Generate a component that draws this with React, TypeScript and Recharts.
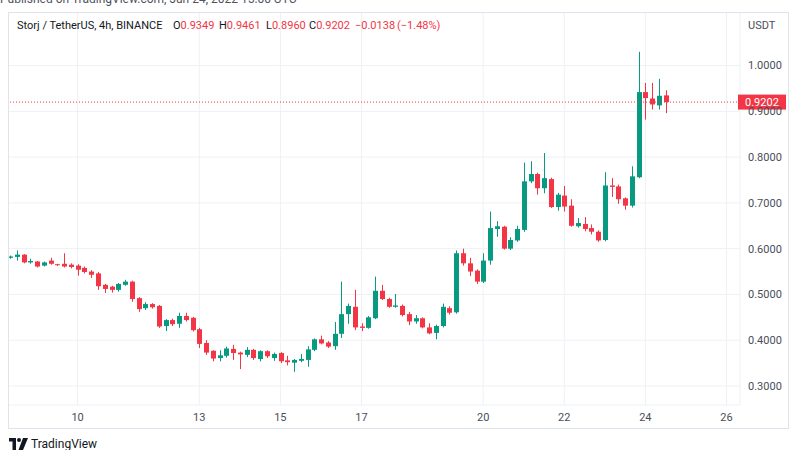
import { Bar, CartesianGrid, ComposedChart, ReferenceLine, XAxis, YAxis } from "recharts"

const GREEN = "#089981"
const RED = "#f23645"
const GRID = "#eef0f4"
const TEXT = "#4a4e59"
const FONT = "Roboto, 'Liberation Sans', sans-serif"

// 4h candles, STORJ/USDT, Jun 8 08:00 -> Jun 24 12:00 (index = bar number)
const opens = [
  0.58, 0.582, 0.587, 0.57, 0.572, 0.563, 0.574, 0.566, 0.567, 0.565,
  0.563, 0.558, 0.55, 0.546, 0.521, 0.517, 0.51, 0.521, 0.528, 0.492,
  0.47, 0.479, 0.475, 0.431, 0.444, 0.436, 0.453, 0.449, 0.424, 0.394,
  0.377, 0.361, 0.366, 0.381, 0.373, 0.368, 0.379, 0.359, 0.376, 0.361,
  0.372, 0.356, 0.351, 0.355, 0.357, 0.379, 0.402, 0.395, 0.387, 0.414,
  0.457, 0.473, 0.43, 0.427, 0.448, 0.508, 0.49, 0.473, 0.475, 0.457,
  0.441, 0.448, 0.428, 0.416, 0.431, 0.47, 0.461, 0.59, 0.568, 0.552,
  0.528, 0.574, 0.643, 0.648, 0.6, 0.618, 0.641, 0.747, 0.763, 0.732,
  0.752, 0.691, 0.716, 0.694, 0.649, 0.654, 0.645, 0.637, 0.619, 0.738,
  0.736, 0.71, 0.694, 0.756, 0.942, 0.928, 0.913, 0.9349,
]
const highs = [
  0.585, 0.596, 0.588, 0.578, 0.573, 0.572, 0.58, 0.567, 0.59, 0.568,
  0.566, 0.561, 0.553, 0.549, 0.523, 0.519, 0.525, 0.532, 0.53, 0.494,
  0.483, 0.481, 0.477, 0.446, 0.447, 0.46, 0.46, 0.451, 0.427, 0.4,
  0.378, 0.378, 0.386, 0.39, 0.375, 0.385, 0.381, 0.378, 0.378, 0.373,
  0.374, 0.366, 0.359, 0.37, 0.387, 0.404, 0.41, 0.398, 0.44, 0.528,
  0.48, 0.51, 0.437, 0.453, 0.539, 0.521, 0.493, 0.501, 0.478, 0.462,
  0.455, 0.45, 0.437, 0.434, 0.48, 0.474, 0.596, 0.6, 0.58, 0.555,
  0.59, 0.681, 0.66, 0.65, 0.625, 0.65, 0.788, 0.791, 0.766, 0.809,
  0.755, 0.722, 0.737, 0.708, 0.667, 0.669, 0.653, 0.64, 0.767, 0.754,
  0.74, 0.712, 0.78, 1.03, 0.962, 0.962, 0.971, 0.9461,
]
const lows = [
  0.578, 0.574, 0.568, 0.567, 0.559, 0.561, 0.565, 0.562, 0.559, 0.557,
  0.541, 0.546, 0.536, 0.51, 0.503, 0.504, 0.506, 0.519, 0.484, 0.462,
  0.466, 0.469, 0.427, 0.42, 0.431, 0.427, 0.441, 0.419, 0.383, 0.368,
  0.354, 0.354, 0.362, 0.357, 0.337, 0.363, 0.357, 0.354, 0.361, 0.355,
  0.35, 0.345, 0.331, 0.352, 0.342, 0.376, 0.391, 0.383, 0.379, 0.405,
  0.436, 0.422, 0.42, 0.425, 0.446, 0.488, 0.471, 0.471, 0.452, 0.433,
  0.436, 0.426, 0.413, 0.402, 0.428, 0.456, 0.458, 0.563, 0.54, 0.523,
  0.525, 0.565, 0.626, 0.598, 0.597, 0.615, 0.637, 0.743, 0.718, 0.721,
  0.689, 0.683, 0.681, 0.648, 0.646, 0.638, 0.631, 0.615, 0.616, 0.713,
  0.698, 0.685, 0.69, 0.754, 0.882, 0.904, 0.904, 0.896,
]
const closes = [
  0.583, 0.587, 0.57, 0.573, 0.561, 0.57, 0.567, 0.564, 0.561, 0.56,
  0.554, 0.549, 0.543, 0.518, 0.512, 0.51, 0.523, 0.528, 0.49, 0.468,
  0.479, 0.472, 0.43, 0.444, 0.435, 0.453, 0.444, 0.422, 0.392, 0.373,
  0.36, 0.367, 0.382, 0.372, 0.369, 0.379, 0.361, 0.376, 0.365, 0.37,
  0.354, 0.352, 0.357, 0.359, 0.38, 0.402, 0.393, 0.386, 0.414, 0.457,
  0.475, 0.428, 0.427, 0.45, 0.508, 0.49, 0.473, 0.476, 0.455, 0.441,
  0.448, 0.428, 0.415, 0.431, 0.473, 0.46, 0.59, 0.568, 0.55, 0.528,
  0.574, 0.645, 0.649, 0.6, 0.619, 0.643, 0.747, 0.763, 0.732, 0.754,
  0.691, 0.718, 0.692, 0.65, 0.656, 0.643, 0.637, 0.618, 0.738, 0.735,
  0.708, 0.694, 0.758, 0.942, 0.929, 0.915, 0.934, 0.9202,
]

// bar index of midnight for each labelled day
const dayTicks = [10, 28, 40, 52, 70, 82, 94, 106]
const dayLabels = ["10", "13", "15", "17", "20", "22", "24", "26"]
const priceTicks = [0.3, 0.4, 0.5, 0.6, 0.7, 0.8, 0.9, 1.0]
const lastPrice = 0.9202

const data = opens.map((o, i) => ({
  i,
  o,
  h: highs[i],
  l: lows[i],
  c: closes[i],
  range: [lows[i], highs[i]],
}))

function Candle(p: any) {
  const { x, y, width, height, payload } = p
  if (x == null || y == null) return null
  const top = Math.min(y, y + height)
  const hh = Math.abs(height)
  const { o, h, l, c } = payload
  const k = hh / (h - l || 1)
  const bTop = top + (h - Math.max(o, c)) * k
  const bBot = top + (h - Math.min(o, c)) * k
  const color = c >= o ? GREEN : RED
  const cx = Math.round(x + width / 2) + 0.5
  return (
    <g>
      <line x1={cx} x2={cx} y1={top} y2={top + hh} stroke={color} strokeWidth={1} />
      <rect x={cx - 2.5} y={bTop} width={5} height={Math.max(1, bBot - bTop)} fill={color} />
    </g>
  )
}

function PriceBadge(props: any) {
  const vb = props.viewBox || {}
  const x = vb.x + vb.width - 2
  const y = vb.y
  return (
    <g>
      <rect x={x} y={y - 7.5} width={48} height={15} fill={RED} />
      <text x={x + 7} y={y + 4} fill="#fff" fontSize={11} fontFamily={FONT}>
        {lastPrice.toFixed(4)}
      </text>
    </g>
  )
}

function TvLogo() {
  return (
    <svg width={20} height={12} viewBox="0 0 20 12" style={{ position: "absolute", left: 9, top: 438 }}>
      <path d="M0 0 H7 V12 H3.5 V3.5 H0 Z" fill="#131722" />
      <circle cx={10} cy={2} r={2} fill="#131722" />
      <path d="M14 0 H19 L14 12 H9.5 Z" fill="#131722" />
    </svg>
  )
}

export default function App() {
  const hdr = { position: "absolute" as const, top: 19, fontSize: 11, fontFamily: FONT, color: "#131722", whiteSpace: "nowrap" as const }
  const red = { color: RED }
  return (
    <div style={{ position: "absolute", left: 0, top: 0, width: 798, height: 450, background: "#fff", overflow: "hidden", fontFamily: FONT }}>
      <div style={{ position: "absolute", left: 0, top: -8, fontSize: 12, color: "#50535e", whiteSpace: "nowrap" }}>
        Published on TradingView.com, Jun 24, 2022 15:00 UTC
      </div>
      <div style={{ position: "absolute", left: 8, top: 12 }}>
        <ComposedChart width={781} height={417} data={data} margin={{ top: 0, right: 0, bottom: 0, left: 0 }}>
          <CartesianGrid stroke={GRID} />
          <XAxis
            dataKey="i"
            type="number"
            domain={[-0.3, 108]}
            allowDataOverflow
            ticks={dayTicks}
            tickFormatter={(v: number) => dayLabels[dayTicks.indexOf(v)] ?? ""}
            height={24}
            axisLine={false}
            tickLine={false}
            tick={{ fontSize: 11, fill: TEXT, fontFamily: FONT }}
          />
          <YAxis
            orientation="right"
            type="number"
            domain={[0.2585, 1.117]}
            allowDataOverflow
            ticks={priceTicks}
            tickFormatter={(v: number) => v.toFixed(4)}
            width={49}
            axisLine={false}
            tickLine={false}
            tick={{ fontSize: 11, fill: TEXT, fontFamily: FONT }}
          />
          <ReferenceLine y={lastPrice} stroke={RED} strokeDasharray="1 2" label={<PriceBadge />} />
          <Bar dataKey="range" barSize={5} shape={<Candle />} isAnimationActive={false} />
        </ComposedChart>
      </div>
      <div style={{ position: "absolute", left: 8, top: 12, width: 781, height: 417, border: "1px solid #e0e3eb", boxSizing: "border-box", pointerEvents: "none" }} />
      <div style={{ position: "absolute", left: 748, top: 19, fontSize: 11, color: TEXT }}>USDT</div>
      <span style={{ ...hdr, left: 17 }}>Storj / TetherUS, 4h, BINANCE</span>
      <span style={{ ...hdr, left: 173 }}>O<span style={red}>0.9349</span></span>
      <span style={{ ...hdr, left: 219 }}>H<span style={red}>0.9461</span></span>
      <span style={{ ...hdr, left: 266 }}>L<span style={red}>0.8960</span></span>
      <span style={{ ...hdr, left: 309 }}>C<span style={red}>0.9202</span></span>
      <span style={{ ...hdr, left: 355, ...red }}>−0.0138</span>
      <span style={{ ...hdr, left: 397, ...red }}>(−1.48%)</span>
      <TvLogo />
      <div style={{ position: "absolute", left: 31, top: 437, fontSize: 12, color: "#131722", whiteSpace: "nowrap" }}>TradingView</div>
    </div>
  )
}
